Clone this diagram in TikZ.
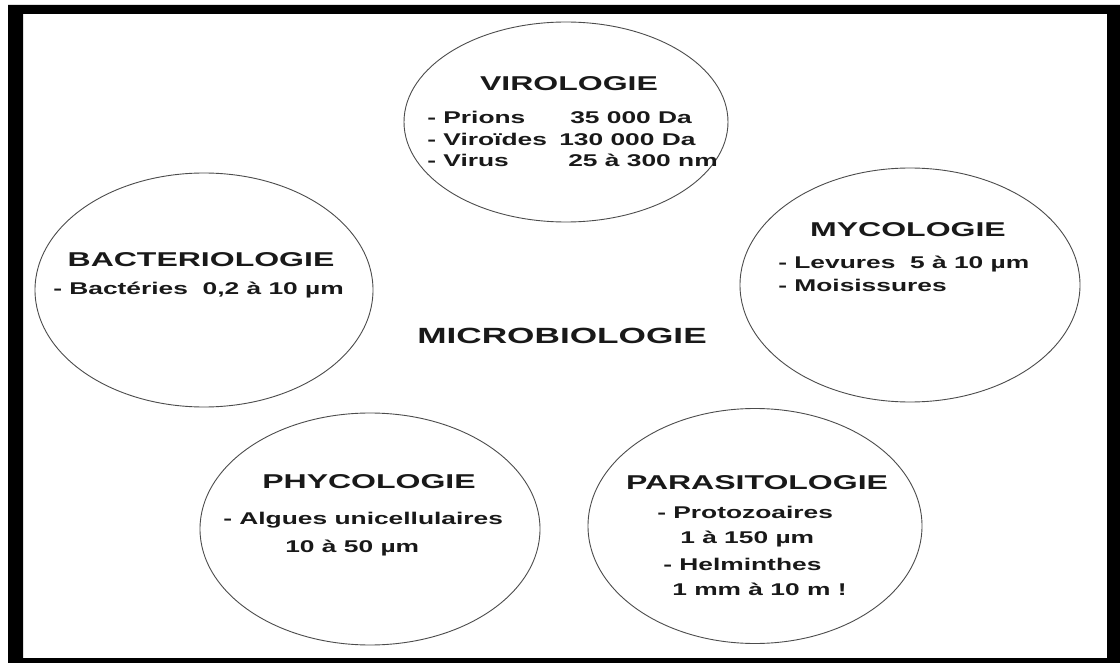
\documentclass[tikz,border=0pt]{standalone}
\usepackage{fontspec}
\setmainfont{Liberation Sans}
\usetikzlibrary{shapes.geometric}
\begin{document}
\begin{tikzpicture}[x=1pt,y=-1pt,
  dombox/.style={ellipse, draw=black!70, line width=0.9pt, inner sep=0pt},
  ttl/.style={font=\bfseries\fontsize{20}{24}\selectfont, xscale=1.6, inner sep=0pt, anchor=base, text=black!90},
  big/.style={font=\bfseries\fontsize{22}{26}\selectfont, xscale=1.6, inner sep=0pt, anchor=base, text=black!90},
  body/.style={font=\bfseries\fontsize{17}{20}\selectfont, xscale=1.55, inner sep=0pt, anchor=base west, text=black!90}]
\useasboundingbox (0,0) rectangle (1120,663);
\fill[white] (0,0) rectangle (1120,663);
\fill[black, even odd rule] (8,5) rectangle (1120,663) (23,14) rectangle (1107,658);

% domains
\node[dombox, minimum width=324pt, minimum height=200pt] (viro) at (566,122) {};
\node[dombox, minimum width=338pt, minimum height=234pt] (bact) at (204,290) {};
\node[dombox, minimum width=340pt, minimum height=234pt] (myco) at (910,285) {};
\node[dombox, minimum width=340pt, minimum height=232pt] (phyco) at (370,529) {};
\node[dombox, minimum width=334pt, minimum height=235pt] (para) at (755,526) {};

% centre
\node[big] (micro) at (562,344) {MICROBIOLOGIE};

% virologie
\node[ttl] (viroT) at (569,91) {VIROLOGIE};
\node[body] (v1) at (427,124) {- Prions};
\node[body] (v1n) at (570,124) {35 000 Da};
\node[body] (v2) at (427,146) {- Viroïdes};
\node[body] (v2n) at (559,146) {130 000 Da};
\node[body] (v3) at (427,167) {- Virus};
\node[body] (v3n) at (568,167) {25 à 300 nm};

% bacteriologie
\node[ttl] (bactT) at (201,267) {BACTERIOLOGIE};
\node[body] (b1) at (53,295) {- Bactéries\ \ 0,2 à 10 µm};

% mycologie
\node[ttl] (mycoT) at (908,237) {MYCOLOGIE};
\node[body] (m1) at (778,269) {- Levures\ \ 5 à 10 µm};
\node[body] (m2) at (778,292) {- Moisissures};

% phycologie
\node[ttl] (phycoT) at (369,488) {PHYCOLOGIE};
\node[body] (p1) at (223,524) {- Algues unicellulaires};
\node[body] (p2) at (285,552) {10 à 50 µm};

% parasitologie
\node[ttl] (paraT) at (757,489) {PARASITOLOGIE};
\node[body] (q1) at (657,518) {- Protozoaires};
\node[body] (q2) at (680,543) {1 à 150 µm};
\node[body] (q3) at (663,570) {- Helminthes};
\node[body] (q4) at (672,595) {1 mm à 10 m !};
\end{tikzpicture}
\end{document}
